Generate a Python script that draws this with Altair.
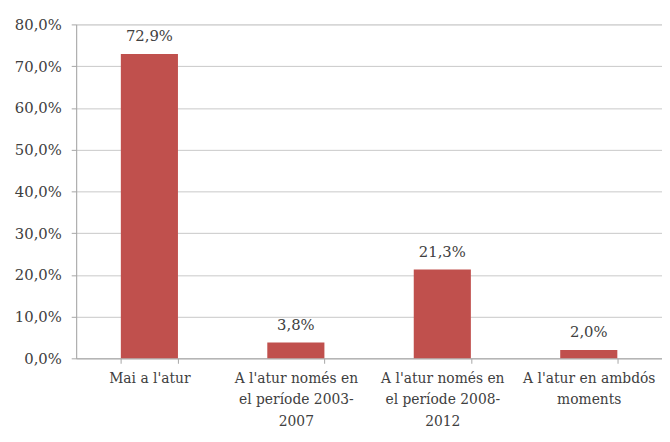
import altair as alt
import pandas as pd

categories = [
    "Mai a l'atur",
    "A l'atur només en\nel període 2003-\n2007",
    "A l'atur només en\nel període 2008-\n2012",
    "A l'atur en ambdós\nmoments",
]
values = [72.9, 3.8, 21.3, 2.0]
value_labels = ["72,9%", "3,8%", "21,3%", "2,0%"]
y_ticks = [0, 10, 20, 30, 40, 50, 60, 70, 80]

df = pd.DataFrame({"cat": categories, "val": values, "lbl": value_labels})

FONT = "DejaVu Serif"
TXT = "#404040"

x = alt.X(
    "cat:N",
    sort=categories,
    title=None,
    scale=alt.Scale(paddingInner=0.61, paddingOuter=0.305),
    axis=alt.Axis(
        labelExpr="split(datum.label, '\\n')",
        labelAngle=0,
        labelFont=FONT,
        labelFontSize=14,
        labelColor=TXT,
        labelLineHeight=22,
        labelPadding=8,
        labelLimit=200,
        domainColor="#a6a6a6",
        tickColor="#a6a6a6",
        tickSize=5,
        tickBand="extent",
        grid=False,
    ),
)

y = alt.Y(
    "val:Q",
    title=None,
    scale=alt.Scale(domain=[0, 80], nice=False),
    axis=alt.Axis(
        values=y_ticks,
        labelExpr="replace(format(datum.value, '.1f'), '.', ',') + '%'",
        labelFont=FONT,
        labelFontSize=15,
        labelColor=TXT,
        labelPadding=10,
        domainColor="#a6a6a6",
        tickColor="#a6a6a6",
        tickSize=5,
        gridColor="#c8c8c8",
        gridWidth=1,
    ),
)

bars = alt.Chart(df).mark_bar(color="#c0504d").encode(x=x, y=y)
labels = alt.Chart(df).mark_text(
    dy=-13, font=FONT, fontSize=15, color=TXT, baseline="alphabetic"
).encode(x=alt.X("cat:N", sort=categories), y="val:Q", text="lbl:N")

chart = (
    alt.layer(bars, labels)
    .properties(
        width=593,
        height=338,
        autosize=alt.AutoSizeParams(type="none"),
        padding={"left": 69, "top": 14, "right": 0, "bottom": 74},
    )
    .configure_view(stroke=None)
    .configure(background="white", font=FONT)
    .configure_axis(labelFont=FONT)
)

chart.save("out.html", embed_options={"renderer": "svg", "actions": False})
